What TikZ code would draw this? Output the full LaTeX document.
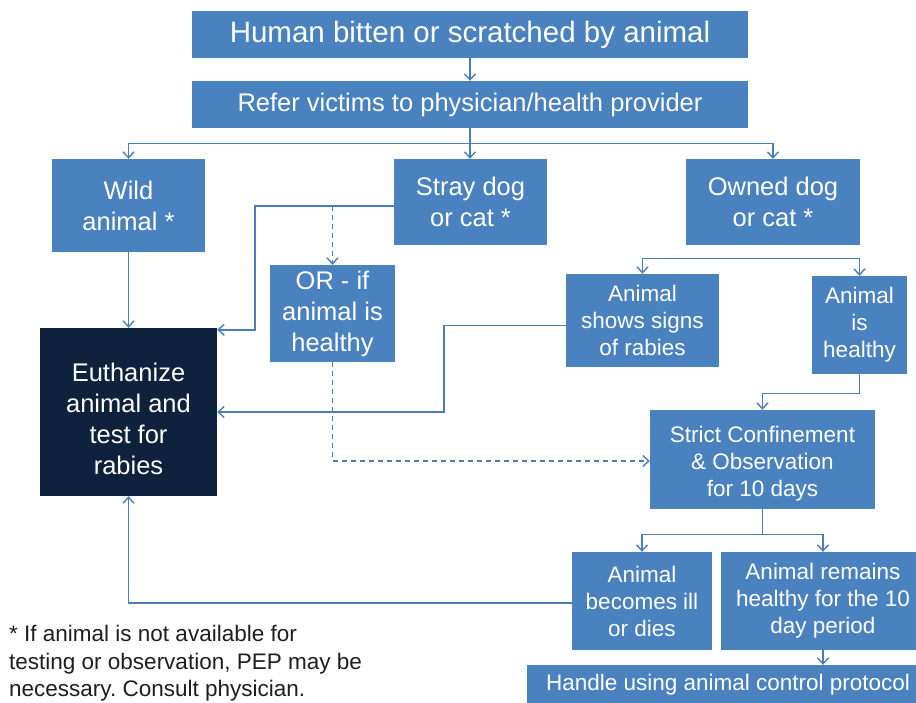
\documentclass[tikz,border=0pt]{standalone}
\usepackage{fontspec}
\setmainfont{Liberation Sans}
\usetikzlibrary{arrows.meta}
\definecolor{boxblue}{RGB}{74,129,191}
\definecolor{navy}{RGB}{15,34,61}
\definecolor{lineblue}{RGB}{74,126,187}
\definecolor{notegray}{RGB}{30,30,30}
\frenchspacing
\begin{document}
\begin{tikzpicture}[x=1pt, y=-1pt,
        box/.style={fill=boxblue, text=white, align=center, inner sep=0pt},
        big/.style={font=\fontsize{25.5}{31}\selectfont},
        small/.style={font=\fontsize{22.5}{27}\selectfont},
        link/.style={lineblue, line width=1.4pt, -{Straight Barb[length=6pt, width=11pt]}},
        maybe/.style={link, dash pattern=on 5pt off 4pt}]
\useasboundingbox (0,0) rectangle (916,702);

\node[box, minimum width=556, minimum height=47, font=\fontsize{29.5}{35}\selectfont]
        (bitten) at (470,34.5) {Human bitten or scratched by animal};
\node[box, minimum width=556, minimum height=47, font=\fontsize{25.5}{31}\selectfont]
        (refer) at (470,104.5) {Refer victims to physician/health provider};

\node[box, big, minimum width=153, minimum height=93] (wild) at (128.5,205.5) {Wild\\animal *};
\node[box, big, minimum width=153, minimum height=86] (stray) at (470.5,202) {Stray dog\\or cat *};
\node[box, big, minimum width=174, minimum height=86] (owned) at (773,202) {Owned dog\\or cat *};
\node[box, big, minimum width=125, minimum height=97] (orbox) at (332.5,313.5) {OR - if\\animal is\\healthy};
\node[box, big, fill=navy, minimum width=177, minimum height=168] (euth) at (128.5,412)
        {\rule{0pt}{32pt}Euthanize\\animal and\\test for\\rabies};

\node[box, small, minimum width=153, minimum height=93] (signs) at (642.5,320.5) {Animal\\shows signs\\of rabies};
\node[box, small, minimum width=95, minimum height=98] (healthy) at (859.5,325) {Animal\\is\\healthy};
\node[box, small, minimum width=225, minimum height=99] (strict) at (762.5,459.5)
        {\rule{0pt}{25pt}Strict Confinement\\\& Observation\\for 10 days};
\node[box, small, minimum width=140, minimum height=98] (ill) at (642,601) {Animal\\becomes ill\\or dies};
\node[box, small, minimum width=204, minimum height=98] (remains) at (823,601)
        {Animal remains\\healthy for the 10\\day period};
\node[box, small, minimum width=402, minimum height=40] (handle) at (728,685)
        {Handle using animal control protocol};

\node[small, text=notegray, align=left, inner sep=0pt, anchor=north west,
        font=\fontsize{22.5}{27.5}\selectfont] (footnote) at (9,625)
        {* If animal is not available for\\testing or observation, PEP may be\\necessary. Consult physician.};

\draw[link] (bitten) -- (refer);
\draw[link] (refer.south) -- ++(0,15) coordinate (fork) -| (wild.north);
\draw[link] (fork) -| (owned.north);
\draw[link] (fork) -- (refer.south |- stray.north);

\draw[link] (wild.south) -- (euth.north);
\draw[link] ([yshift=-4pt]stray.west) -- ++(-139,0) coordinate (strayturn) |- ([yshift=-2pt]euth.north east);
\draw[maybe] (orbox.north |- strayturn) -- (orbox.north);
\draw[maybe] (orbox.south) |- ([yshift=-1.5pt]strict.west);

\coordinate (ownfork) at ([yshift=-13pt]owned.south);
\draw[link] (ownfork) -| (signs.north);
\draw[link] (ownfork) -| (healthy.north);
\draw[link] ([yshift=-5pt]signs.west) -- ++(-122,0) |- (euth.east);
\draw[link] (healthy.south) -- ++(0,19) -| (strict.north);

\draw[link] (strict.south) -- ++(0,25) coordinate (stfork) -| (ill.north);
\draw[link] (stfork) -| (remains.north);
\draw[link] ([yshift=-2pt]ill.west) -| (euth.south);
\draw[link] (remains.south) -- (remains.south |- handle.north);
\end{tikzpicture}
\end{document}
